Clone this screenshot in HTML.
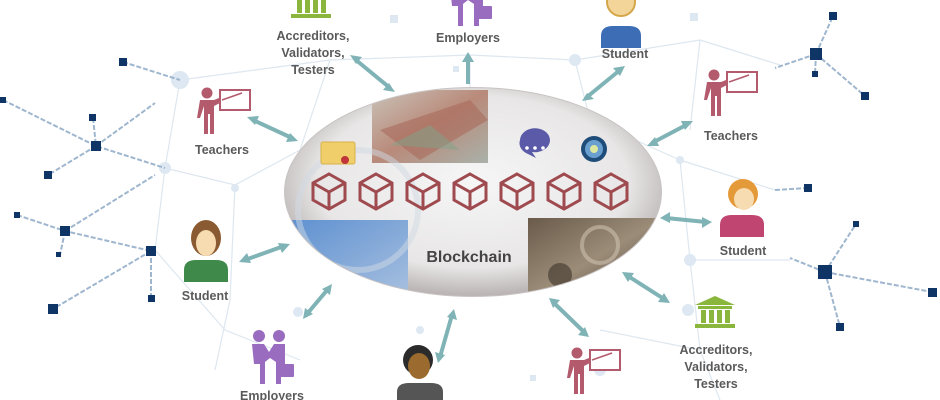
<!DOCTYPE html>
<html><head><meta charset="utf-8"><style>
html,body{margin:0;padding:0;background:#fff;}
svg{display:block;}
text{font-family:"Liberation Sans",sans-serif;font-weight:bold;font-size:12.5px;fill:#5a5a5a;text-anchor:middle;}
</style></head><body>
<svg width="940" height="400" viewBox="0 0 940 400" xmlns="http://www.w3.org/2000/svg">
<defs>
<radialGradient id="eg" cx="50%" cy="45%" r="55%">
<stop offset="0" stop-color="#f6f6f6"/><stop offset="0.75" stop-color="#e8e6e6"/><stop offset="1" stop-color="#b9b3b3"/>
</radialGradient>
<clipPath id="ec"><ellipse cx="473" cy="192" rx="188" ry="104"/></clipPath>
<linearGradient id="bl" x1="0" y1="0" x2="1" y2="1"><stop offset="0" stop-color="#5c8fd0"/><stop offset="1" stop-color="#a9c1e0"/></linearGradient>
<linearGradient id="br" x1="0" y1="0" x2="1" y2="1"><stop offset="0" stop-color="#6a5a4a"/><stop offset="0.5" stop-color="#9b8c78"/><stop offset="1" stop-color="#4f4236"/></linearGradient>
<linearGradient id="tp" x1="0" y1="0" x2="1" y2="1"><stop offset="0" stop-color="#c9c2b8"/><stop offset="0.5" stop-color="#b98a7a"/><stop offset="1" stop-color="#a9b2aa"/></linearGradient>
<g id="cube" fill="none" stroke="#9e4a4f" stroke-width="3">
<path d="M0,-17 L16,-8 L16,9 L0,18 L-16,9 L-16,-8 Z M-16,-8 L0,1 L16,-8 M0,1 L0,18"/>
</g>
<g id="teacher">
<circle cx="9" cy="6" r="5.5" fill="#b35a6c"/>
<path d="M2,13 h14 l10,-4 l2,4 l-12,6 v28 h-4 v-20 h-2 v20 h-4 v-28 l-4,12 h-3 z" fill="#b35a6c"/>
<rect x="22" y="3" width="30" height="20" fill="#fff" stroke="#b35a6c" stroke-width="2"/>
<line x1="24" y1="13" x2="44" y2="6" stroke="#b35a6c" stroke-width="1.5"/>
</g>
<g id="bank" fill="#8ab63e">
<path d="M20,0 L40,9 H0 Z"/><rect x="3" y="10" width="34" height="3"/>
<rect x="6" y="14" width="5" height="13"/><rect x="14" y="14" width="5" height="13"/><rect x="22" y="14" width="5" height="13"/><rect x="30" y="14" width="5" height="13"/>
<rect x="0" y="28" width="40" height="4"/>
</g>
<g id="emp" fill="#9a6cc0">
<circle cx="10" cy="6" r="6"/><circle cx="30" cy="6" r="6"/>
<path d="M3,14 h12 l5,8 l5,-8 h11 v20 h-4 v20 h-5 v-22 l-6,-4 l-5,4 v22 h-5 v-20 h-6 z"/>
<rect x="29" y="34" width="16" height="13" rx="1"/>
</g>
</defs>

<g stroke="#dde7ef" stroke-width="1.2" fill="none">
<path d="M180,80 L330,60 L470,55 L575,60 L700,40 L780,65 M180,80 L165,168 L235,185 L300,150 M165,168 L155,250 L225,330 L300,360 M235,185 L230,300 L215,370 M575,60 L590,120 L680,160 L690,260 L700,350 M700,40 L690,130 M680,160 L775,190 M690,260 L790,260 M600,330 L700,350 L720,400 M330,60 L300,150 M470,55 L470,90"/>
</g>
<g fill="#dde8f2">
<circle cx="180" cy="80" r="9"/><circle cx="165" cy="168" r="6"/><circle cx="235" cy="188" r="4"/><circle cx="575" cy="60" r="6"/><circle cx="690" cy="260" r="6"/><circle cx="680" cy="160" r="4"/><circle cx="600" cy="370" r="6"/><circle cx="298" cy="312" r="5"/><circle cx="420" cy="330" r="4"/><circle cx="688" cy="310" r="6"/>
<rect x="390" y="15" width="8" height="8"/><rect x="453" y="66" width="6" height="6"/><rect x="690" y="13" width="8" height="8"/><rect x="530" y="375" width="6" height="6"/>
</g>

<g stroke="#9fb6cf" stroke-width="2" stroke-dasharray="5,2" fill="none">
<path d="M123,62 L180,80 M3,100 L96,146 L165,168 M96,146 L48,175 M96,146 L155,103 M93,118 L96,146 M17,215 L65,231 L151,251 M65,231 L60,255 M65,231 L155,175 M151,251 L151,298 M151,251 L53,309"/>
<path d="M816,54 L833,16 M816,54 L815,74 M816,54 L865,96 M816,54 L775,68 M808,188 L775,190 M825,272 L856,224 M825,272 L932,292 M825,272 L840,327 M825,272 L790,258"/>
</g>
<g fill="#0f3466">
<rect x="119" y="58" width="8" height="8"/><rect x="0" y="97" width="6" height="6"/><rect x="91" y="141" width="10" height="10"/><rect x="89" y="114" width="7" height="7"/><rect x="44" y="171" width="8" height="8"/><rect x="14" y="212" width="6" height="6"/><rect x="60" y="226" width="10" height="10"/><rect x="56" y="252" width="5" height="5"/><rect x="146" y="246" width="10" height="10"/><rect x="148" y="295" width="7" height="7"/><rect x="48" y="304" width="10" height="10"/>
<rect x="829" y="12" width="8" height="8"/><rect x="810" y="48" width="12" height="12"/><rect x="812" y="71" width="6" height="6"/><rect x="861" y="92" width="8" height="8"/><rect x="804" y="184" width="8" height="8"/><rect x="853" y="221" width="6" height="6"/><rect x="818" y="265" width="14" height="14"/><rect x="928" y="288" width="9" height="9"/><rect x="836" y="323" width="8" height="8"/>
</g>

<ellipse cx="473" cy="192" rx="189" ry="105" fill="#c9c3c3"/>
<ellipse cx="473" cy="192" rx="188" ry="104" fill="url(#eg)"/>
<g clip-path="url(#ec)">
<rect x="372" y="90" width="116" height="73" fill="url(#tp)"/>
<path d="M380,130 L470,100 L488,120 L420,160 Z" fill="#a86a5c" opacity="0.6"/>
<path d="M390,145 L430,125 L460,150 Z" fill="#7fa48a" opacity="0.5"/>
<rect x="280" y="220" width="128" height="80" fill="url(#bl)"/>
<rect x="528" y="218" width="135" height="80" fill="url(#br)"/>
<circle cx="600" cy="245" r="18" fill="none" stroke="#cbbfae" stroke-width="4" opacity="0.6"/>
<circle cx="560" cy="275" r="12" fill="#3e342b" opacity="0.6"/>
<circle cx="358" cy="210" r="60" fill="none" stroke="#cfd9e4" stroke-width="6" opacity="0.5"/>
</g>
<rect x="321" y="142" width="34" height="22" rx="2" fill="#f0cf6a" stroke="#d9b14a"/>
<circle cx="345" cy="160" r="4" fill="#c0343a"/>
<path d="M520,140 a15,12 0 1,1 12,12 l4,6 l-10,-5 a15,12 0 0,1 -6,-13z" fill="#5a5aa8"/>
<circle cx="527" cy="148" r="1.8" fill="#fff"/><circle cx="535" cy="148" r="1.8" fill="#fff"/><circle cx="543" cy="148" r="1.8" fill="#fff"/>
<circle cx="594" cy="149" r="13" fill="#1e4d7a"/><circle cx="594" cy="149" r="9" fill="#6aa0d0"/><circle cx="594" cy="149" r="4" fill="#dce8a0"/>
<use href="#cube" x="329" y="191"/><use href="#cube" x="376" y="191"/><use href="#cube" x="423" y="191"/><use href="#cube" x="470" y="191"/><use href="#cube" x="517" y="191"/><use href="#cube" x="564" y="191"/><use href="#cube" x="611" y="191"/>
<text x="469" y="262" style="font-size:16px;fill:#444">Blockchain</text>

<g stroke="#7fb3b6" stroke-width="4" fill="#7fb3b6">
<line x1="356" y1="60" x2="390" y2="88"/><line x1="468" y1="84" x2="468" y2="58"/><line x1="587" y1="97" x2="620" y2="70"/>
<line x1="253" y1="120" x2="292" y2="138"/><line x1="652" y1="143" x2="688" y2="124"/>
<line x1="245" y1="260" x2="284" y2="246"/><line x1="666" y1="218" x2="706" y2="222"/>
<line x1="307" y1="314" x2="328" y2="289"/><line x1="440" y1="357" x2="452" y2="315"/>
<line x1="554" y1="303" x2="584" y2="332"/><line x1="628" y1="276" x2="664" y2="299"/>
</g>
<g fill="#7fb3b6">
<polygon points="350,55 362,57 356,64"/><polygon points="395,92 383,90 389,83"/>
<polygon points="468,52 462,62 474,62"/>
<polygon points="625,66 620,76 613,68"/><polygon points="582,101 594,99 587,93"/>
<polygon points="247,117 259,116 255,125"/><polygon points="298,141 286,142 290,133"/>
<polygon points="647,146 655,137 659,146"/><polygon points="693,121 685,130 681,121"/>
<polygon points="239,262 247,253 251,263"/><polygon points="290,244 282,253 278,243"/>
<polygon points="660,218 670,212 670,223"/><polygon points="712,222 702,228 702,217"/>
<polygon points="303,319 305,308 313,314"/><polygon points="332,284 330,295 322,289"/>
<polygon points="438,363 435,352 445,355"/><polygon points="454,309 457,320 447,317"/>
<polygon points="549,298 560,300 553,308"/><polygon points="589,337 578,335 585,327"/>
<polygon points="622,272 634,273 628,282"/><polygon points="670,303 658,302 664,293"/>
</g>

<use href="#bank" x="291" y="-14"/>
<use href="#bank" x="695" y="296"/>
<use href="#emp" x="447" y="-28"/>
<use href="#emp" x="249" y="330"/>
<use href="#teacher" x="198" y="87"/>
<use href="#teacher" x="705" y="69"/>
<use href="#teacher" x="568" y="347"/>
<path d="M601,48 v-12 q0,-10 12,-10 h16 q12,0 12,10 v12 z" fill="#3d6db5"/>
<circle cx="621" cy="2" r="14" fill="#f3d59a" stroke="#d4a64a" stroke-width="2"/>
<path d="M184,282 v-12 q0,-10 12,-10 h20 q12,0 12,10 v12 z" fill="#3f8a4a"/>
<ellipse cx="206" cy="238" rx="15" ry="18" fill="#8a5a32"/><ellipse cx="206" cy="243" rx="10" ry="13" fill="#f6dcb0"/>
<path d="M720,237 v-12 q0,-10 12,-10 h20 q12,0 12,10 v12 z" fill="#c04570"/>
<circle cx="743" cy="194" r="15" fill="#e59a3a"/><ellipse cx="744" cy="199" rx="10" ry="11" fill="#f6dcb0"/>
<path d="M397,402 v-10 q0,-9 12,-9 h22 q12,0 12,9 v10 z" fill="#555"/>
<ellipse cx="418" cy="360" rx="15" ry="15" fill="#2b2b2b"/><ellipse cx="419" cy="366" rx="11" ry="13" fill="#9a6a2e"/>

<text x="313" y="40">Accreditors,</text><text x="313" y="57">Validators,</text><text x="313" y="74">Testers</text>
<text x="468" y="42">Employers</text>
<text x="625" y="58">Student</text>
<text x="222" y="154">Teachers</text>
<text x="731" y="140">Teachers</text>
<text x="205" y="300">Student</text>
<text x="743" y="255">Student</text>
<text x="716" y="354">Accreditors,</text><text x="716" y="371">Validators,</text><text x="716" y="388">Testers</text>
<text x="272" y="400">Employers</text>
</svg>
</body></html>
